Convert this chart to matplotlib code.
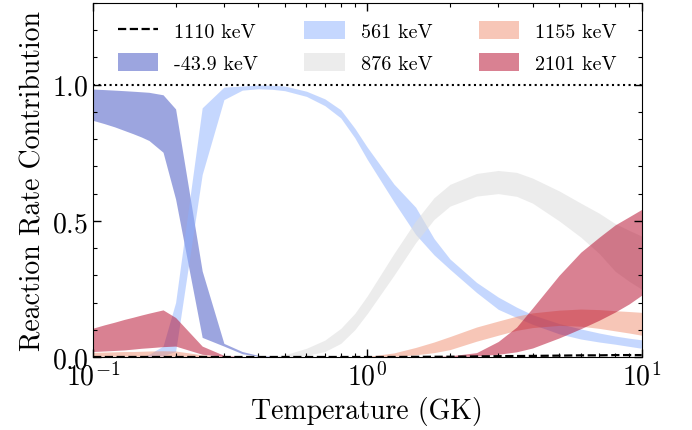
import matplotlib
matplotlib.use('Agg')
import matplotlib.pyplot as plt
import numpy as np
from matplotlib.ticker import MultipleLocator, LogLocator, NullFormatter

plt.rcParams['font.family'] = 'serif'
plt.rcParams['font.serif'] = ['cmr10']
plt.rcParams['mathtext.fontset'] = 'cm'
plt.rcParams['axes.formatter.use_mathtext'] = True
plt.rcParams['axes.unicode_minus'] = False

# temperature grid (GK)
T = [0.1, 0.11, 0.12, 0.13, 0.14, 0.15, 0.16, 0.18, 0.2, 0.25, 0.3, 0.35, 0.4, 0.45,
     0.5, 0.6, 0.7, 0.8, 0.9, 1.0, 1.25, 1.5, 1.75, 2.0, 2.5, 3.0, 3.5, 4.0, 5.0,
     6.0, 7.0, 8.0, 9.0, 10.0]

# 1110 keV (line)
r1110 = [0, 0, 0, 0, 0, 0, 0, 0, 0, 0, 0, 0, 0, 0,
         0, 0, 0, 0, 0, 0, 0, 0.0005, 0.0008, 0.001, 0.002, 0.003, 0.0035, 0.004, 0.005,
         0.006, 0.006, 0.007, 0.007, 0.007]

# -43.9 keV band
r44_lo = [0.869, 0.857, 0.845, 0.832, 0.820, 0.808, 0.795, 0.752, 0.58, 0.072, 0.04, 0.012, 0.003, 0.001,
          0, 0, 0, 0, 0, 0, 0, 0, 0, 0, 0, 0, 0, 0, 0, 0, 0, 0, 0, 0]
r44_hi = [0.984, 0.982, 0.980, 0.978, 0.976, 0.974, 0.972, 0.963, 0.911, 0.316, 0.05, 0.02, 0.006, 0.002,
          0.001, 0, 0, 0, 0, 0, 0, 0, 0, 0, 0, 0, 0, 0, 0, 0, 0, 0, 0, 0]

# 561 keV band
r561_lo = [0, 0, 0, 0, 0, 0, 0, 0.005, 0.02, 0.67, 0.945, 0.98, 0.985, 0.983,
           0.978, 0.957, 0.923, 0.878, 0.805, 0.725, 0.57, 0.45, 0.375, 0.322, 0.237, 0.175, 0.145, 0.12, 0.085,
           0.066, 0.055, 0.047, 0.039, 0.032]
r561_hi = [0, 0, 0, 0, 0, 0, 0.01, 0.04, 0.2, 0.915, 0.991, 0.995, 0.999, 0.998,
           0.995, 0.976, 0.948, 0.908, 0.84, 0.77, 0.635, 0.55, 0.435, 0.36, 0.274, 0.22, 0.183, 0.155, 0.123,
           0.103, 0.088, 0.077, 0.069, 0.063]

# 876 keV band
r876_lo = [0, 0, 0, 0, 0, 0, 0, 0, 0, 0, 0, 0, 0, 0,
           0, 0.006, 0.02, 0.05, 0.1, 0.16, 0.3, 0.42, 0.505, 0.554, 0.591, 0.6, 0.59, 0.565, 0.5,
           0.44, 0.38, 0.315, 0.278, 0.249]
r876_hi = [0, 0, 0, 0, 0, 0, 0, 0, 0, 0, 0, 0, 0, 0.002,
           0.008, 0.032, 0.062, 0.105, 0.16, 0.225, 0.38, 0.5, 0.585, 0.634, 0.674, 0.685, 0.678, 0.657, 0.61,
           0.565, 0.528, 0.49, 0.465, 0.444]

# 1155 keV band
r1155_lo = [0.003, 0.003, 0.003, 0.003, 0.003, 0.003, 0.003, 0.003, 0.003, 0.001, 0, 0, 0, 0,
            0, 0, 0, 0, 0, 0, 0.002, 0.008, 0.016, 0.027, 0.058, 0.08, 0.098, 0.108, 0.116,
            0.113, 0.105, 0.096, 0.088, 0.08]
r1155_hi = [0.017, 0.018, 0.019, 0.02, 0.02, 0.021, 0.022, 0.023, 0.022, 0.008, 0.002, 0, 0, 0,
            0, 0, 0, 0, 0, 0.002, 0.015, 0.035, 0.055, 0.075, 0.11, 0.132, 0.15, 0.162, 0.172,
            0.176, 0.174, 0.17, 0.167, 0.164]

# 2101 keV band
r2101_lo = [0.02, 0.022, 0.024, 0.026, 0.029, 0.032, 0.034, 0.038, 0.04, 0.01, 0.002, 0, 0, 0,
            0, 0, 0, 0, 0, 0, 0, 0, 0, 0, 0.004, 0.01, 0.019, 0.033, 0.07,
            0.104, 0.135, 0.165, 0.195, 0.227]
r2101_hi = [0.106, 0.118, 0.128, 0.138, 0.146, 0.154, 0.161, 0.173, 0.145, 0.04, 0.006, 0.001, 0, 0,
            0, 0, 0, 0, 0, 0, 0, 0.001, 0.002, 0.004, 0.016, 0.057, 0.11, 0.18, 0.3,
            0.385, 0.44, 0.485, 0.515, 0.542]

fig = plt.figure(figsize=(6.92, 4.31), dpi=100)
ax = fig.add_axes([0.1344, 0.1694, 0.7929, 0.8213])

ax.plot(T, r1110, 'k--', lw=1.6, label='1110 keV', zorder=5)
ax.fill_between(T, r44_lo, r44_hi, color='#3b4cc0', alpha=0.5, lw=0, label='-43.9 keV')
ax.fill_between(T, r561_lo, r561_hi, color='#8db0fe', alpha=0.5, lw=0, label='561 keV')
ax.fill_between(T, r876_lo, r876_hi, color='#dddddd', alpha=0.55, lw=0, label='876 keV')
ax.fill_between(T, r1155_lo, r1155_hi, color='#f08f70', alpha=0.5, lw=0, label='1155 keV')
ax.fill_between(T, r2101_lo, r2101_hi, color='#b40426', alpha=0.5, lw=0, label='2101 keV')
ax.axhline(1.0, color='k', ls=':', lw=1.5)

ax.set_xscale('log')
ax.set_xlim(0.1, 10)
ax.set_ylim(0, 1.3)
ax.yaxis.set_major_locator(MultipleLocator(0.5))
ax.yaxis.set_minor_locator(MultipleLocator(0.1))
ax.xaxis.set_minor_locator(LogLocator(base=10, subs=np.arange(2, 10)))
ax.xaxis.set_minor_formatter(NullFormatter())
ax.tick_params(which='both', direction='in', top=True, right=True, labelsize=20)
ax.tick_params(which='major', length=6, width=1)
ax.tick_params(which='minor', length=3, width=0.8)

ax.set_xlabel('Temperature (GK)', fontsize=20)
ax.set_ylabel('Reaction Rate Contribution', fontsize=20)

ax.legend(loc='upper center', ncol=3, frameon=False, fontsize=14.5,
          handlelength=2.0, handleheight=1.0, handletextpad=0.8, columnspacing=2.3,
          labelspacing=0.6, borderaxespad=0.5)

fig.savefig('out.png', dpi=100)
